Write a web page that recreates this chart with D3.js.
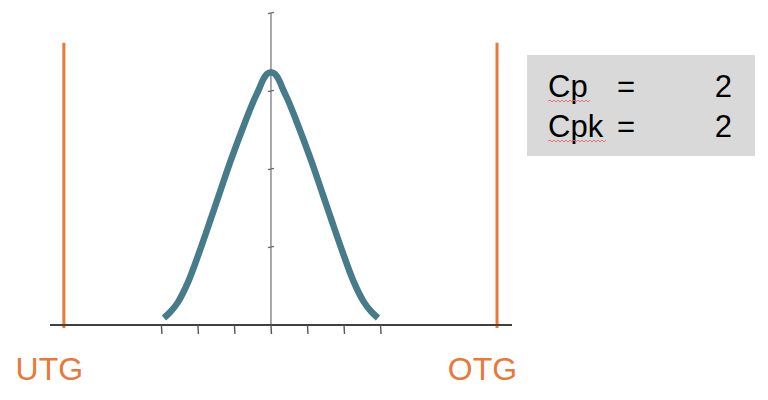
<!DOCTYPE html>
<html>
<head>
<meta charset="utf-8">
<script src="https://cdn.jsdelivr.net/npm/d3@7"></script>
<style>
  html, body { margin: 0; padding: 0; background: #fff; }
  svg { display: block; }
  text { font-family: "Liberation Sans", Arial, sans-serif; }
</style>
</head>
<body>
<div id="chart"></div>
<script>
// ---- data ----
const curveX = [-2.93, -2.75, -2.55, -2.27, -1.95, -1.64, -1.40, -1.10, -0.71, -0.45, -0.33, -0.24, -0.16, -0.08, 0,
                0.08, 0.16, 0.24, 0.33, 0.45, 0.71, 1.10, 1.40, 1.64, 1.95, 2.27, 2.55, 2.75, 2.93];
const curveY = [0.09, 0.17, 0.29, 0.55, 0.95, 1.37, 1.70, 2.11, 2.60, 2.90, 3.02, 3.12, 3.19, 3.226, 3.24,
                3.226, 3.19, 3.12, 3.02, 2.90, 2.60, 2.11, 1.70, 1.37, 0.95, 0.55, 0.29, 0.17, 0.09];
const xTicks = [-3, -2, -1, 0, 1, 2, 3];
const yTicks = [1, 2, 3, 4];
const specNames = ["UTG", "OTG"];
const specValues = [-5.67, 6.19];
const indexLabels = ["Cp", "Cpk"];
const indexValues = [2, 2];

// ---- layout ----
const W = 768, H = 400;
const svg = d3.select("#chart").append("svg").attr("width", W).attr("height", H);
svg.append("rect").attr("width", W).attr("height", H).attr("fill", "#fff");

const x = d3.scaleLinear().domain([-6.05, 6.6]).range([50, 512]);
const y = d3.scaleLinear().domain([0, 4]).range([325, 13]);

const orange = "#E8793A";

// spec limit lines
specValues.forEach((v, i) => {
  svg.append("line")
    .attr("x1", x(v)).attr("x2", x(v))
    .attr("y1", y(-0.04)).attr("y2", y(3.62))
    .attr("stroke", orange).attr("stroke-width", 3);
  svg.append("text")
    .attr("x", x(v) - 14.5).attr("y", 380)
    .attr("text-anchor", "middle")
    .attr("font-size", 32)
    .attr("fill", orange)
    .text(specNames[i]);
});

// vertical axis
svg.append("line")
  .attr("x1", x(0)).attr("x2", x(0))
  .attr("y1", y(4)).attr("y2", y(0))
  .attr("stroke", "#7a7a7a").attr("stroke-width", 1.3);
svg.selectAll(".ytick").data(yTicks).enter().append("line")
  .attr("x1", x(0) - 3).attr("x2", x(0) + 3)
  .attr("y1", d => y(d) + 0.7).attr("y2", d => y(d) - 0.7)
  .attr("stroke", "#6a6a6a").attr("stroke-width", 1.2);

// horizontal axis
svg.append("line")
  .attr("x1", x(-6.05)).attr("x2", x(6.6))
  .attr("y1", y(0)).attr("y2", y(0))
  .attr("stroke", "#404040").attr("stroke-width", 2);
svg.selectAll(".xtick").data(xTicks).enter().append("line")
  .attr("x1", d => x(d)).attr("x2", d => x(d) + 0.5)
  .attr("y1", y(0)).attr("y2", y(0) + 9)
  .attr("stroke", "#555").attr("stroke-width", 1.4);

// bell curve
const pts = curveX.map((v, i) => [v, curveY[i]]);
const line = d3.line().x(d => x(d[0])).y(d => y(d[1])).curve(d3.curveCatmullRom.alpha(0.5));
svg.append("path")
  .attr("d", line(pts))
  .attr("fill", "none")
  .attr("stroke", "#467C89")
  .attr("stroke-width", 6.5)
  .attr("stroke-linecap", "butt");

// info box
svg.append("rect")
  .attr("x", 527).attr("y", 55).attr("width", 228).attr("height", 101)
  .attr("fill", "#D9D9D9");

const rowY = [97, 137];
indexLabels.forEach((lab, i) => {
  const t = svg.append("text")
    .attr("x", 548).attr("y", rowY[i])
    .attr("font-size", 31).attr("fill", "#000")
    .text(lab);
  const wlen = t.node().getComputedTextLength();
  // spell-check style wavy underline
  let d = `M548,${rowY[i] + 4}`;
  for (let xx = 548, k = 0; xx < 548 + wlen + 2; xx += 2, k++) {
    d += ` L${xx + 2},${rowY[i] + 4 + (k % 2 === 0 ? -1 : 1)}`;
  }
  svg.append("path").attr("d", d).attr("fill", "none")
    .attr("stroke", "#E06A6A").attr("stroke-width", 0.9);
  svg.append("text")
    .attr("x", 617).attr("y", rowY[i])
    .attr("font-size", 31).attr("fill", "#000")
    .text("=");
  svg.append("text")
    .attr("x", 732).attr("y", rowY[i])
    .attr("text-anchor", "end")
    .attr("font-size", 31).attr("fill", "#000")
    .text(indexValues[i]);
});
</script>
</body>
</html>
